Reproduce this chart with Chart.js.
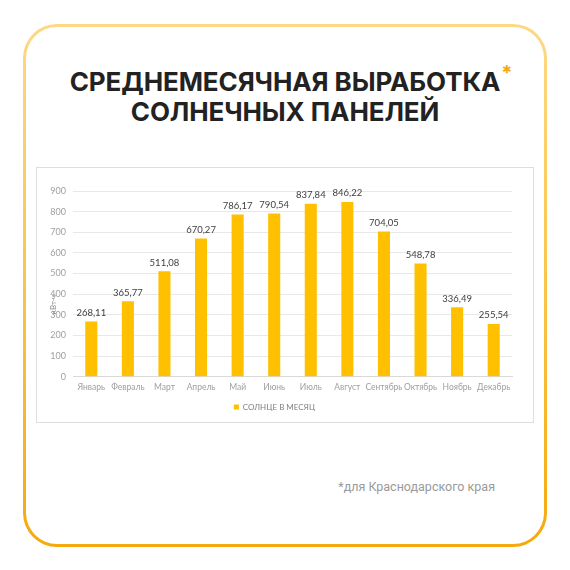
<!DOCTYPE html>
<html>
<head>
<meta charset="utf-8">
<script src="https://cdn.jsdelivr.net/npm/chart.js@4"></script>
<style>
  html, body { margin: 0; padding: 0; background: #fff; }
  body { width: 570px; height: 570px; position: relative; overflow: hidden; }
  .frame {
    position: absolute; left: 23px; top: 24px; width: 524px; height: 523px;
    border-radius: 34px;
    background: linear-gradient(180deg, #fdd885 0%, #f9c54a 50%, #f5a90c 100%);
  }
  .frame .inner {
    position: absolute; left: 3px; top: 3px; right: 3px; bottom: 3px;
    border-radius: 31px; background: #fff;
  }
  .title {
    position: absolute; left: 0; width: 570px; top: 67px;
    text-align: center; font-family: Inter, "Noto Sans", sans-serif;
    font-weight: 700; font-size: 26px; line-height: 30px; color: #222;
    letter-spacing: -0.1px;
  }
  .title .star { color: #f5a90c; font-size: 20px; position: absolute; margin-left: 1px; margin-top: -9px; }
  .panel {
    position: absolute; left: 36px; top: 167px; width: 496px; height: 254px;
    border: 1px solid #dedede; background: #fff;
  }
  .note {
    position: absolute; right: 75px; top: 479px;
    font-family: Roboto, sans-serif; font-size: 12.5px; color: #9a9a9a;
  }
</style>
</head>
<body>
<div class="frame"><div class="inner"></div></div>
<div class="title">СРЕДНЕМЕСЯЧНАЯ ВЫРАБОТКА<span class="star">*</span><br>СОЛНЕЧНЫХ ПАНЕЛЕЙ</div>
<div class="panel"><canvas id="chart" width="496" height="254"></canvas></div>
<div class="note">*для Краснодарского края</div>
<script>
const months = ["Январь", "Февраль", "Март", "Апрель", "Май", "Июнь",
                "Июль", "Август", "Сентябрь", "Октябрь", "Ноябрь", "Декабрь"];
const output = [268.11, 365.77, 511.08, 670.27, 786.17, 790.54,
                837.84, 846.22, 704.05, 548.78, 336.49, 255.54];
const seriesName = "СОЛНЦЕ В МЕСЯЦ";
const unitLabel = "кВт·ч";

const tickFont = { family: "Lato, 'Open Sans', sans-serif", size: 8.5 };

// value labels over bars + rotated unit label
const valueLabels = {
    id: "valueLabels",
    afterDatasetsDraw(chart) {
        const ctx = chart.ctx;
        const meta = chart.getDatasetMeta(0);
        ctx.save();
        ctx.font = "9.5px Lato, 'Open Sans', sans-serif";
        ctx.fillStyle = "#404040";
        ctx.textAlign = "center";
        ctx.textBaseline = "bottom";
        meta.data.forEach((bar, i) => {
            ctx.fillText(output[i].toFixed(2).replace(".", ","), bar.x, bar.y - 4);
        });
        const y = chart.scales.y;
        ctx.translate(y.left + 16, y.getPixelForValue(350));
        ctx.rotate(-Math.PI / 2);
        ctx.font = "8px Lato, sans-serif";
        ctx.fillStyle = "#8c8c8c";
        ctx.textBaseline = "middle";
        ctx.fillText(unitLabel, 0, 0);
        ctx.restore();
    }
};

new Chart(document.getElementById("chart").getContext("2d"), {
    type: "bar",
    data: {
        labels: months,
        datasets: [{
            label: seriesName,
            data: output,
            backgroundColor: "#ffc000",
            barPercentage: 0.33,
            categoryPercentage: 1
        }]
    },
    options: {
        responsive: false,
        animation: false,
        layout: { padding: { left: 0, right: 21, top: 23, bottom: 1 } },
        scales: {
            x: {
                grid: { display: false, drawTicks: false },
                border: { color: "#d9d9d9" },
                ticks: { color: "#a0a0a0", font: tickFont, padding: 5, maxRotation: 0, autoSkip: false }
            },
            y: {
                min: 0,
                max: 900,
                afterFit(scale) { scale.width = 36; },
                grid: { color: "#e8e8e8", drawTicks: false },
                border: { display: false },
                ticks: { stepSize: 100, color: "#a0a0a0", font: { family: tickFont.family, size: 9 }, padding: 7 }
            }
        },
        plugins: {
            legend: {
                position: "bottom",
                labels: {
                    boxWidth: 5, boxHeight: 5, padding: 6,
                    color: "#808080",
                    font: { family: "Lato, sans-serif", size: 8 }
                }
            },
            tooltip: { enabled: false }
        }
    },
    plugins: [valueLabels]
});
</script>
</body>
</html>
